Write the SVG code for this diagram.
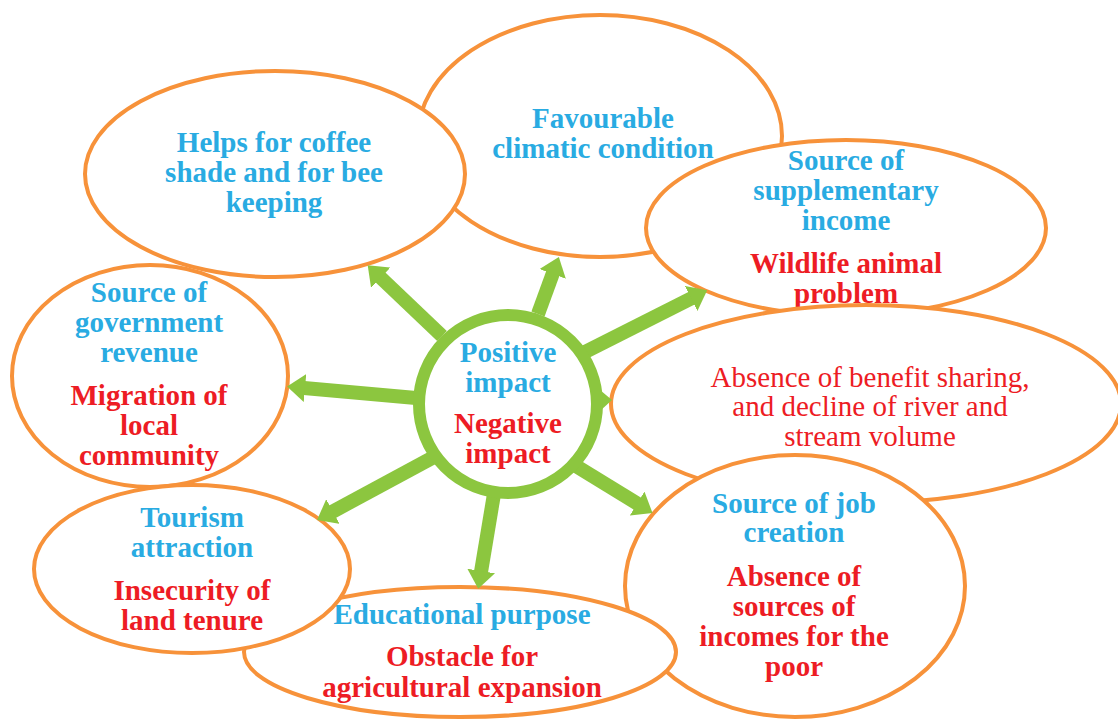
<svg xmlns="http://www.w3.org/2000/svg" width="1118" height="720" viewBox="0 0 1118 720">
<defs>
<style>
.bub{fill:#fff;stroke:#F7923A;stroke-width:4}
.t{font-family:"Liberation Serif","Times New Roman",serif;font-weight:bold;font-size:29px;text-anchor:middle}
.r{font-family:"Liberation Serif","Times New Roman",serif;font-size:29px;text-anchor:middle;fill:#ED1C24}
.pos{fill:#29ABE2}
.neg{fill:#ED1C24}
.conn{stroke:#8CC63F;stroke-width:14;fill:none;marker-end:url(#ah)}
</style>
<marker id="ah" markerUnits="userSpaceOnUse" markerWidth="18" markerHeight="28" refX="1" refY="14" orient="auto" viewBox="0 0 18 28">
<path d="M0,0 L18,14 L0,28 z" fill="#8CC63F"/>
</marker>
</defs>
<rect width="1118" height="720" fill="#fff"/>

<g id="favourable">
<ellipse class="bub" cx="600" cy="136" rx="182" ry="121"/>
<text class="t pos" x="603" y="128">Favourable</text>
<text class="t pos" x="603" y="158">climatic condition</text>
</g>

<g id="coffee">
<ellipse class="bub" cx="275" cy="174" rx="190" ry="103"/>
<text class="t pos" x="274" y="152">Helps for coffee</text>
<text class="t pos" x="274" y="182">shade and for bee</text>
<text class="t pos" x="274" y="212">keeping</text>
</g>

<g id="government">
<ellipse class="bub" cx="150" cy="376" rx="138" ry="111"/>
<text class="t pos" x="149" y="302">Source of</text>
<text class="t pos" x="149" y="332">government</text>
<text class="t pos" x="149" y="362">revenue</text>
<text class="t neg" x="149" y="405">Migration of</text>
<text class="t neg" x="149" y="435">local</text>
<text class="t neg" x="149" y="465">community</text>
</g>

<g id="supplementary">
<ellipse class="bub" cx="846" cy="228" rx="200" ry="88"/>
<text class="t pos" x="846" y="170">Source of</text>
<text class="t pos" x="846" y="200">supplementary</text>
<text class="t pos" x="846" y="230">income</text>
<text class="t neg" x="846" y="273">Wildlife animal</text>
<text class="t neg" x="846" y="303">problem</text>
</g>

<g id="benefit">
<ellipse class="bub" cx="866" cy="404" rx="255" ry="99"/>
<text class="r" x="870" y="387">Absence of benefit sharing,</text>
<text class="r" x="870" y="416">and decline of river and</text>
<text class="r" x="870" y="446">stream volume</text>
</g>

<g id="job">
<ellipse class="bub" cx="795" cy="586" rx="170" ry="131"/>
<text class="t pos" x="794" y="513">Source of job</text>
<text class="t pos" x="794" y="542">creation</text>
<text class="t neg" x="794" y="586">Absence of</text>
<text class="t neg" x="794" y="616">sources of</text>
<text class="t neg" x="794" y="646">incomes for the</text>
<text class="t neg" x="794" y="676">poor</text>
</g>

<g id="educational">
<ellipse class="bub" cx="460" cy="652" rx="216" ry="65"/>
<text class="t pos" x="462" y="624">Educational purpose</text>
<text class="t neg" x="462" y="666">Obstacle for</text>
<text class="t neg" x="462" y="697">agricultural expansion</text>
</g>

<g id="tourism">
<ellipse class="bub" cx="192" cy="569" rx="158" ry="84"/>
<text class="t pos" x="192" y="527">Tourism</text>
<text class="t pos" x="192" y="557">attraction</text>
<text class="t neg" x="192" y="600">Insecurity of</text>
<text class="t neg" x="192" y="630">land tenure</text>
</g>

<g id="connectors">
<line class="conn" x1="442" y1="336" x2="380" y2="277"/>
<line class="conn" x1="538" y1="314" x2="553" y2="273"/>
<line class="conn" x1="585" y1="352" x2="692" y2="298"/>
<polygon points="600,390 612,400 600,411" fill="#8CC63F"/>
<line class="conn" x1="576" y1="466" x2="638" y2="504"/>
<line class="conn" x1="494" y1="494" x2="481" y2="572"/>
<line class="conn" x1="432" y1="458" x2="332" y2="512"/>
<line class="conn" x1="416" y1="398" x2="304" y2="388"/>
</g>

<g id="center">
<circle cx="508" cy="404" r="89" fill="#fff" stroke="#8CC63F" stroke-width="12"/>
<text class="t pos" x="508" y="362">Positive</text>
<text class="t pos" x="508" y="392">impact</text>
<text class="t neg" x="508" y="433">Negative</text>
<text class="t neg" x="508" y="463">impact</text>
</g>
</svg>
